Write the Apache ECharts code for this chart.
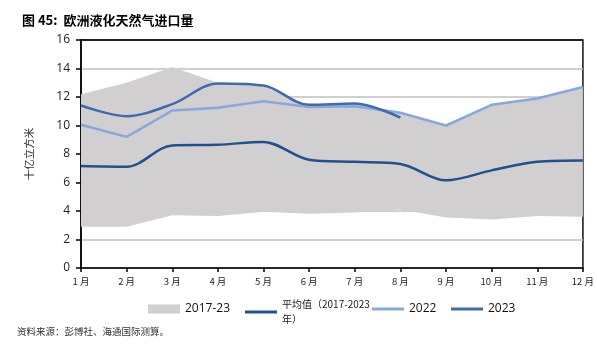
<!DOCTYPE html>
<html><head><meta charset="utf-8">
<script src="https://cdn.jsdelivr.net/npm/echarts@6/dist/echarts.min.js"></script>
<style>html,body{margin:0;padding:0;background:#fff}#c{width:597px;height:360px}</style>
</head><body><div id="c"></div>
<script>
const months = ['1 月','2 月','3 月','4 月','5 月','6 月','7 月','8 月','9 月','10 月','11 月','12 月'];
const rangeLow  = [2.9, 2.9, 3.7, 3.65, 3.95, 3.8, 3.9, 4.1, 3.55, 3.4, 3.65, 3.6];
const rangeHigh = [12.2, 13.0, 14.1, 13.0, 12.75, 11.4, 11.6, 10.9, 10.0, 11.45, 11.9, 12.7];
const avg  = [7.15, 7.1, 8.6, 8.65, 8.85, 7.6, 7.45, 7.3, 6.15, 6.85, 7.45, 7.55];
const y2022 = [10.05, 9.2, 11.05, 11.25, 11.7, 11.3, 11.35, 10.9, 10.0, 11.45, 11.9, 12.7];
const y2023 = [11.4, 10.65, 11.5, 12.95, 12.8, 11.45, 11.55, 10.55];
const yTicks = [0,2,4,6,8,10,12,14,16];

const bandDiff = rangeHigh.map((v,i)=> +(v - rangeLow[i]).toFixed(2));
const cAvg = '#22508F', c22 = '#86A8DC', c23 = '#3F69B3', cBand = '#D1CFD0';
const chart = echarts.init(document.getElementById('c'));
const fontCN = '"Noto Sans CJK SC", sans-serif';
chart.setOption({
  animation:false,
  title:{text:'图 45:  欧洲液化天然气进口量', left:17, top:9,
    textStyle:{fontSize:13, fontWeight:'bold', color:'#000', fontFamily:fontCN}},
  graphic:[{type:'text', left:17, top:327, style:{text:'资料来源：彭博社、海通国际测算。', fontSize:9.5, fill:'#333', fontFamily:fontCN}}],
  grid:{left:81, right:10, top:40, bottom:92, show:true, borderColor:'#111', borderWidth:1.5, backgroundColor:'transparent'},
  legend:[
    {left:143, top:298, itemWidth:32, itemHeight:9, itemGap:10, data:[{name:'2017-23', icon:'rect'}],
      textStyle:{fontSize:12, color:'#111', fontFamily:'"Open Sans", sans-serif'}},
    {left:240, top:292, itemWidth:32, itemHeight:3, data:[{name:'平均值（2017-2023年）', icon:'rect'}],
      formatter:()=>'平均值（2017-2023\n年）',
      textStyle:{fontSize:10, color:'#222', fontFamily:fontCN, lineHeight:15}},
    {left:367, top:298, itemWidth:32, itemHeight:3, data:[{name:'2022', icon:'rect'}],
      textStyle:{fontSize:12, color:'#111', fontFamily:'"Open Sans", sans-serif'}},
    {left:446, top:298, itemWidth:32, itemHeight:3, data:[{name:'2023', icon:'rect'}],
      textStyle:{fontSize:12, color:'#111', fontFamily:'"Open Sans", sans-serif'}}
  ],
  xAxis:{type:'category', data:months, boundaryGap:false,
    axisLine:{lineStyle:{color:'#000', width:1.5}},
    axisTick:{show:true, length:4, lineStyle:{color:'#000', width:1.5}},
    axisLabel:{fontSize:9.5, color:'#222', margin:9, fontFamily:fontCN}},
  yAxis:{type:'value', min:0, max:16, interval:2,
    name:'十亿立方米', nameLocation:'middle', nameGap:47, nameRotate:90,
    nameTextStyle:{fontSize:10.5, color:'#333', fontFamily:fontCN},
    axisLine:{show:true, lineStyle:{color:'#000', width:1.5}},
    axisTick:{show:true, length:5, lineStyle:{color:'#000', width:1.5}},
    axisLabel:{fontSize:12, color:'#222', margin:11, fontFamily:'"Open Sans", sans-serif',
      formatter:v=> yTicks.includes(v) ? String(v) : ''},
    splitLine:{show:true, lineStyle:{color:['#c0c0c0','#c0c0c0','#c0c0c0','#c0c0c0','#c0c0c0','#c0c0c0','#c0c0c0','#c0c0c0','#111'], width:1.5}}},
  series:[
    {name:'low', type:'line', stack:'band', data:rangeLow, symbol:'none', smooth:false,
      lineStyle:{opacity:0}, areaStyle:{opacity:0}, silent:true},
    {name:'2017-23', type:'line', stack:'band', data:bandDiff, symbol:'none', smooth:false,
      itemStyle:{color:cBand}, lineStyle:{opacity:0}, areaStyle:{color:cBand, opacity:1}},
    {name:'平均值（2017-2023年）', type:'line', data:avg, symbol:'none', smooth:0.33,
      itemStyle:{color:cAvg}, lineStyle:{color:cAvg, width:2.5}},
    {name:'2022', type:'line', data:y2022, symbol:'none',
      itemStyle:{color:c22}, lineStyle:{color:c22, width:2.5}},
    {name:'2023', type:'line', data:y2023, symbol:'none', smooth:0.33,
      itemStyle:{color:c23}, lineStyle:{color:c23, width:2.5}}
  ]
});
</script></body></html>
